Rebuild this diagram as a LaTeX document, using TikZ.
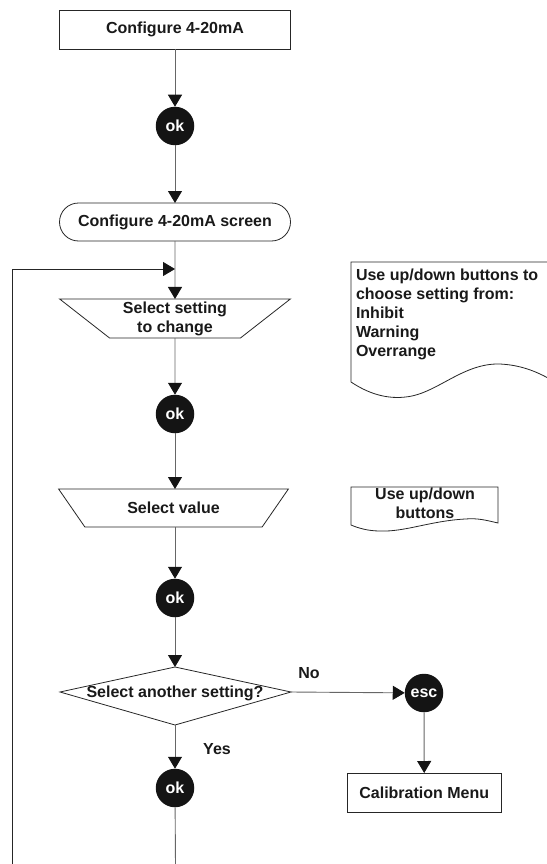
\documentclass[tikz,border=0pt]{standalone}
\usepackage{fontspec}
\setmainfont{Liberation Sans}
\usetikzlibrary{arrows.meta,shapes.geometric}
\begin{document}
\begin{tikzpicture}[x=1pt,y=-1pt,
  every node/.style={font=\bfseries\fontsize{16}{19}\selectfont, inner sep=0pt, outer sep=0pt, text=black!90},
  outline/.style={draw=black!85, line width=0.8pt},
  box/.style={outline, minimum width=231pt, minimum height=39pt},
  trap/.style={outline, trapezium, trapezium angle=40.6, shape border rotate=180, trapezium stretches=true, minimum width=231pt, minimum height=39pt, align=center},
  okc/.style={circle, fill=black!92, text=white, minimum size=38.5pt},
  conn/.style={draw=black!60, line width=0.9pt, -{Triangle[width=14pt,length=12pt,color=black!92]}},
  plain/.style={draw=black!60, line width=0.9pt},
  loopline/.style={draw=black!85, line width=0.8pt, -{Triangle[width=14pt,length=12pt,color=black!92]}}
]
\useasboundingbox (0,0) rectangle (546,864);

% main column
\node[box] (top) at (175,29.5) {Configure 4-20mA};
\node[okc] (ok1) at (175,126) {ok};
\node[box, rounded corners=19pt, minimum height=38pt] (screen) at (175,222) {Configure 4-20mA screen};
\coordinate (join) at (175,269);
\node[trap] (trap1) at (175,318.5) {\raisebox{-1.5pt}{Select setting}\\\raisebox{-1.5pt}{to change}};
\node[okc] (ok2) at (175,414) {ok};
\node[trap, minimum width=230pt, minimum height=38pt] (trap2) at (173.5,508) {Select value};
\node[okc] (ok3) at (175,598) {ok};

% decision (kite shaped)
\coordinate (dtop) at (175,667);
\coordinate (dright) at (291,692);
\coordinate (dbot) at (175,725);
\coordinate (dleft) at (60,692);
\draw[outline] (dtop) -- (dright) -- (dbot) -- (dleft) -- cycle;
\node (dtext) at (175,693) {Select another setting?};

\node[okc] (esc) at (424,693) {esc};
\node[box, minimum width=153.5pt] (calib) at (424.25,792.5) {Calibration Menu};
\node[okc] (ok4) at (175,788) {ok};

\node (no) at (309,673) {No};
\node (yes) at (217,749) {Yes};

% notes
\draw[outline] (548,262) -- (351,262) -- (351,382)
  .. controls (372,396) and (392,400) .. (412,396)
  .. controls (440,390) and (465,363) .. (500,364)
  .. controls (520,365) and (535,371) .. (548,378);
\node[anchor=north west, align=left] (n1) at (356,269) {Use up/down buttons to\\choose setting from:\\Inhibit\\Warning\\Overrange};

\draw[outline] (351,487) -- (498,487) -- (498,523)
  .. controls (485,520) and (478,518) .. (465,519)
  .. controls (430,521) and (405,532) .. (380,531)
  .. controls (368,531) and (358,528) .. (351,525) -- cycle;
\node[align=center] (n2) at (425,503.5) {Use up/down\\buttons};

% connectors
\draw[conn] (top) -- (ok1);
\draw[conn] (ok1) -- (screen);
\draw[conn] (screen) -- (trap1);
\draw[conn] (trap1) -- (ok2);
\draw[conn] (ok2.south) -- (ok2.south |- trap2.north);
\draw[conn] (trap2.south -| ok3) -- (ok3);
\draw[conn] (ok3) -- (dtop);
\draw[conn] (dright) -- (esc);
\draw[conn] (esc) -- (calib);
\draw[conn] (dbot) -- (ok4);
\coordinate (bend) at (175.5,866);
\coordinate (lbot) at (12.5,866);
\draw[plain] (ok4) -- (bend);
\draw[loopline] (lbot) |- (join);
\end{tikzpicture}
\end{document}
